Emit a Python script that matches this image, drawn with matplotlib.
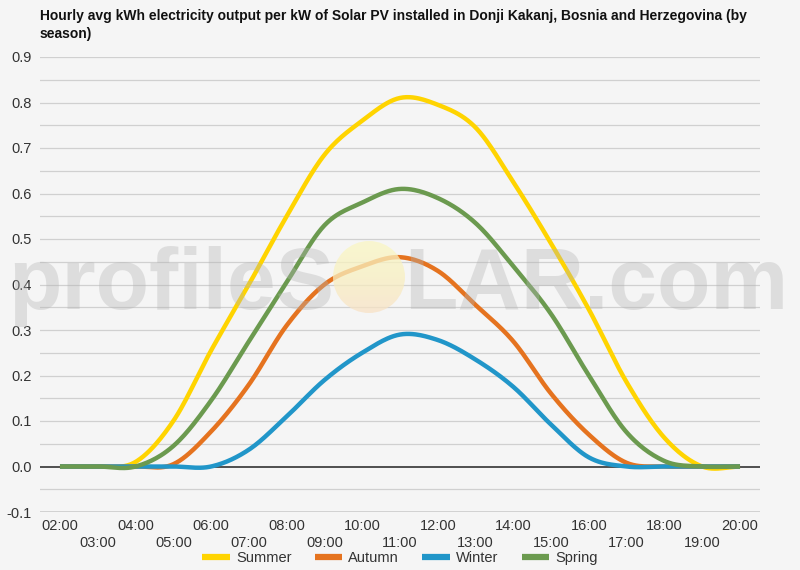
import numpy as np
import matplotlib
matplotlib.use("Agg")
import matplotlib.pyplot as plt
from matplotlib.lines import Line2D
from matplotlib.patches import Circle
from matplotlib.colors import LinearSegmentedColormap

plt.rcParams["font.family"] = ["Liberation Sans", "DejaVu Sans"]

BG = "#f5f5f5"
TXT = "#333333"

hours = list(range(2, 21))
hour_labels = [f"{h:02d}:00" for h in hours]

summer = [0, 0, 0.01, 0.10, 0.255, 0.40, 0.55, 0.685, 0.76, 0.81, 0.795, 0.745,
          0.625, 0.49, 0.345, 0.185, 0.063, 0, 0]
autumn = [0, 0, 0, 0.005, 0.077, 0.18, 0.31, 0.40, 0.44, 0.46, 0.43, 0.355,
          0.275, 0.16, 0.07, 0.008, 0, 0, 0]
winter = [0, 0, 0, 0, 0, 0.037, 0.11, 0.19, 0.25, 0.29, 0.278, 0.235,
          0.175, 0.092, 0.02, 0, 0, 0, 0]
spring = [0, 0, 0, 0.045, 0.145, 0.275, 0.405, 0.53, 0.58, 0.61, 0.59, 0.535,
          0.44, 0.335, 0.20, 0.075, 0.012, 0, 0]

series = [("Summer", summer, "#FFD400"),
          ("Autumn", autumn, "#E5731F"),
          ("Winter", winter, "#2196C9"),
          ("Spring", spring, "#6B9A4F")]


def spline(xs, ys, n=24):
    # catmull-rom through hourly points (same look as the web chart)
    xs = np.asarray(xs, float); ys = np.asarray(ys, float)
    m = np.zeros_like(ys)
    m[1:-1] = (ys[2:] - ys[:-2]) / 2
    out_x, out_y = [], []
    t = np.linspace(0, 1, n, endpoint=False)
    for i in range(len(xs) - 1):
        h00 = 2*t**3 - 3*t**2 + 1; h10 = t**3 - 2*t**2 + t
        h01 = -2*t**3 + 3*t**2; h11 = t**3 - t**2
        out_x.append(xs[i] + t * (xs[i+1] - xs[i]))
        out_y.append(h00*ys[i] + h10*m[i] + h01*ys[i+1] + h11*m[i+1])
    out_x.append([xs[-1]]); out_y.append([ys[-1]])
    return np.concatenate(out_x), np.concatenate(out_y)


fig = plt.figure(figsize=(8, 5.7), dpi=100, facecolor=BG)
ax = fig.add_axes([0.05, 1 - 512/570, 0.90, (512 - 57)/570])
ax.set_facecolor(BG)
for s in ax.spines.values():
    s.set_visible(False)

for g in np.arange(-0.05, 0.91, 0.05):
    if abs(g) > 1e-9:
        ax.axhline(g, color="#d0d0d0", lw=0.9, zorder=1)
ax.axhline(-0.1, color="#cccccc", lw=1.2, zorder=1)
ax.axhline(0, color="#222222", lw=1.1, zorder=2)

for name, vals, col in series:
    sx, sy = spline(hours, vals)
    ax.plot(sx, sy, color=col, lw=3.2, solid_capstyle="butt", zorder=3)

ax.set_xlim(2 - 20/37.8, 20 + 20/37.8)
ax.set_ylim(-0.1, 0.9)
ax.set_yticks(np.arange(-0.1, 0.91, 0.1))
ax.set_yticklabels([f"{v:.1f}" for v in np.arange(-0.1, 0.91, 0.1)])
ax.set_xticks(hours[::2])
ax.set_xticklabels(hour_labels[::2])
ax.set_xticks(hours[1::2], minor=True)
ax.set_xticklabels(hour_labels[1::2], minor=True)
ax.tick_params(axis="both", which="both", length=0, labelsize=10.5, labelcolor=TXT)
ax.tick_params(axis="y", pad=6)
ax.tick_params(axis="x", which="major", pad=5)
ax.tick_params(axis="x", which="minor", pad=17)

# watermark: profileS(sun)LAR.com
wm = dict(fontsize=63, fontweight="bold", color="#b4b4b4", alpha=0.36,
          va="baseline", zorder=10, transform=fig.transFigure)
fig.text(334/800, 1 - 309/570, "profileS", ha="right", **wm)
fig.text(404/800, 1 - 309/570, "LAR.com", ha="left", **wm)

sax = fig.add_axes([(369 - 36)/800, 1 - (277 + 36)/570, 72/800, 72/570])
sax.set_zorder(5)
sax.axis("off")
sun_cmap = LinearSegmentedColormap.from_list("sun", ["#fbf7c4", "#f9f0c0", "#f8e2c6"])
img = sax.imshow(np.linspace(0, 1, 100)[:, None], cmap=sun_cmap, aspect="auto",
                 extent=[0, 1, 0, 1], alpha=0.75)
img.set_clip_path(Circle((0.5, 0.5), 0.5, transform=sax.transAxes))

fig.text(40/800, 1 - 9/570,
         "Hourly avg kWh electricity output per kW of Solar PV installed in Donji Kakanj, Bosnia and Herzegovina (by\nseason)",
         ha="left", va="top", fontsize=10, fontweight="bold", color="#111111",
         linespacing=1.4)

handles = [Line2D([], [], color=c, lw=4.5, solid_capstyle="butt") for _, _, c in series]
fig.legend(handles, [n for n, _, _ in series], loc="center",
           bbox_to_anchor=(0.5, 1 - 558/570), ncol=4, frameon=False,
           fontsize=10.5, handlelength=1.9, handletextpad=0.4, columnspacing=1.6,
           labelcolor=TXT)

fig.savefig("out.png", dpi=100, facecolor=BG)
